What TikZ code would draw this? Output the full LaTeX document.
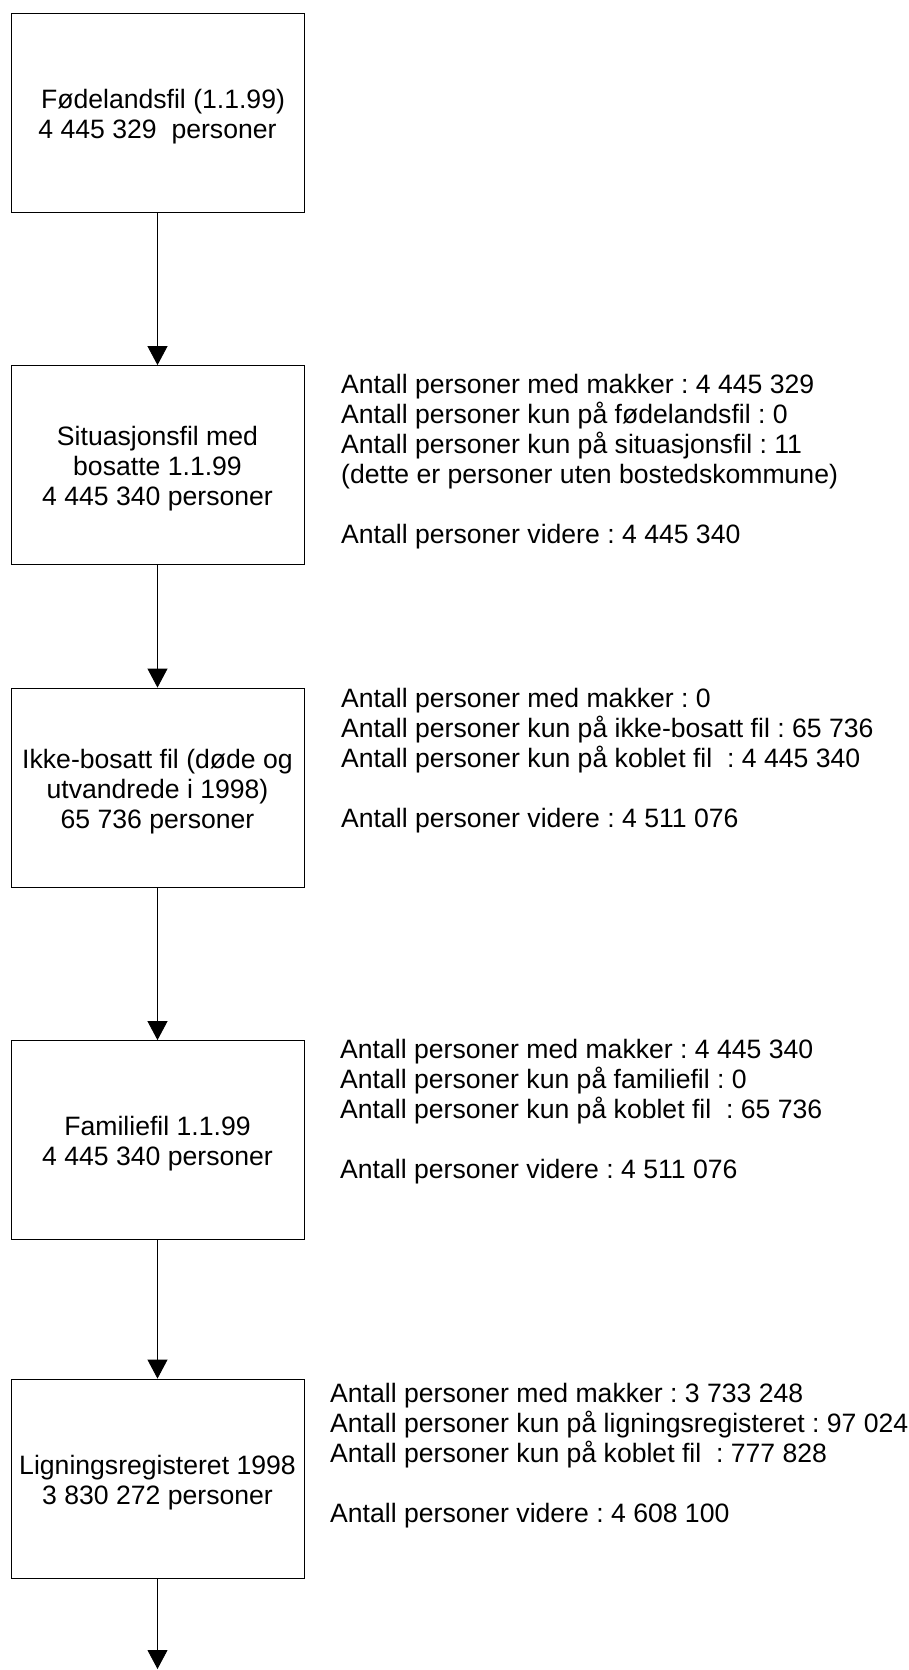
\documentclass[tikz,border=0pt]{standalone}
\usepackage{fontspec}
\setmainfont{Liberation Sans}
\usetikzlibrary{arrows.meta}
\frenchspacing
\begin{document}
\begin{tikzpicture}[x=1pt,y=-1pt,
  font=\fontsize{26.6}{30}\selectfont\frenchspacing,
  box/.style={draw=black, line width=0.8pt, minimum width=293pt, minimum height=199pt, inner sep=0pt},
  boxtext/.style={align=center, inner sep=0pt, yshift=-4pt},
  info/.style={anchor=base west, inner sep=0pt},
  flow/.style={draw=black, line width=0.8pt, -{Triangle[length=19pt,width=20pt]}}]
\useasboundingbox (0,0) rectangle (909,1670);

\node[box] (b1) at (157.5,112.5) {};
\node[box] (b2) at (157.5,465) {};
\node[box] (b3) at (157.5,787.5) {};
\node[box] (b4) at (157.5,1140) {};
\node[box] (b5) at (157.5,1478.5) {};
\node[boxtext] (t1) at (b1.center) {\hspace*{11pt}Fødelandsfil (1.1.99)\\4 445 329\ \ personer};
\node[boxtext] (t2) at (b2.center) {Situasjonsfil med\\bosatte 1.1.99\\4 445 340 personer};
\node[boxtext] (t3) at (b3.center) {Ikke-bosatt fil (døde og\\utvandrede i 1998)\\65 736 personer};
\node[boxtext] (t4) at (b4.center) {Familiefil 1.1.99\\4 445 340 personer};
\node[boxtext] (t5) at (b5.center) {Ligningsregisteret 1998\\3 830 272 personer};
\coordinate (end) at (157.5,1669);

\draw[flow] (b1.south) -- (b2.north);
\draw[flow] (b2.south) -- (b3.north);
\draw[flow] (b3.south) -- (b4.north);
\draw[flow] (b4.south) -- (b5.north);
\draw[flow] (b5.south) -- (end);

\node[info] (i2) at (341,393) {\vtop{%
  \hbox{Antall personer med makker : 4 445 329}%
  \hbox{Antall personer kun på fødelandsfil : 0}%
  \hbox{Antall personer kun på situasjonsfil : 11}%
  \hbox{(dette er personer uten bostedskommune)}%
  \hbox{}%
  \hbox{Antall personer videre : 4 445 340}}};
\node[info] (i3) at (341,707) {\vtop{%
  \hbox{Antall personer med makker : 0}%
  \hbox{Antall personer kun på ikke-bosatt fil : 65 736}%
  \hbox{Antall personer kun på koblet fil\ \ : 4 445 340}%
  \hbox{}%
  \hbox{Antall personer videre : 4 511 076}}};
\node[info] (i4) at (340,1058) {\vtop{%
  \hbox{Antall personer med makker : 4 445 340}%
  \hbox{Antall personer kun på familiefil : 0}%
  \hbox{Antall personer kun på koblet fil\ \ : 65 736}%
  \hbox{}%
  \hbox{Antall personer videre : 4 511 076}}};
\node[info] (i5) at (330,1402) {\vtop{%
  \hbox{Antall personer med makker : 3 733 248}%
  \hbox{Antall personer kun på ligningsregisteret : 97 024}%
  \hbox{Antall personer kun på koblet fil\ \ : 777 828}%
  \hbox{}%
  \hbox{Antall personer videre : 4 608 100}}};
\end{tikzpicture}
\end{document}
